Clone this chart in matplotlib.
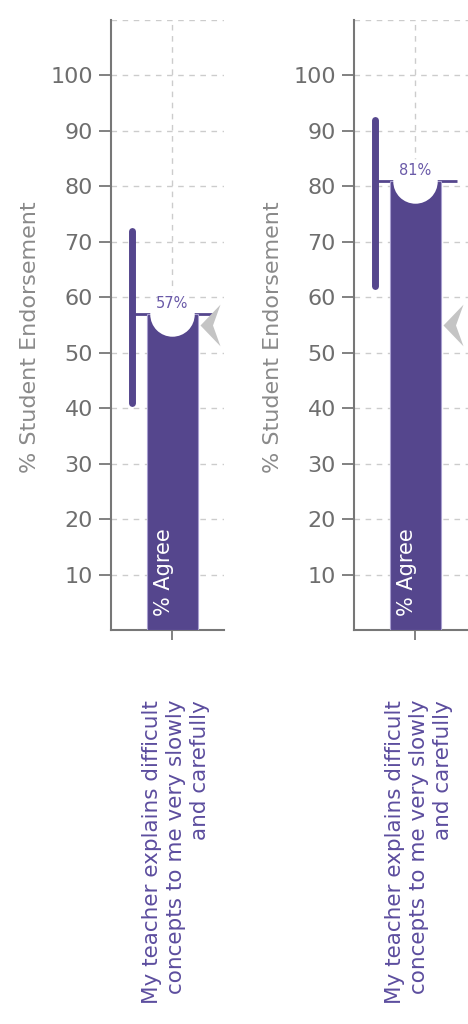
import matplotlib

matplotlib.use("Agg")
import matplotlib.pyplot as plt
import matplotlib.transforms as mtransforms
from matplotlib.path import Path

# data
agree = [57, 81]
range_low = [41, 62]
range_high = [72, 92]
benchmark = [55, 55]
item_labels = [
    "My teacher explains difficult\nconcepts to me very slowly\nand carefully",
    "My teacher explains difficult\nconcepts to me very slowly\nand carefully",
]
y_ticks = [10, 20, 30, 40, 50, 60, 70, 80, 90, 100]

PURPLE = "#55468d"
LABEL_PURPLE = "#5c4d9e"
GRID = "#cccccc"
AXIS = "#777777"

# left-pointing chevron used for the benchmark marker
CHEVRON = Path([(-0.48, 0.0), (0.48, 1.0), (0.12, 0.0), (0.48, -1.0), (-0.48, 0.0)],
               [Path.MOVETO, Path.LINETO, Path.LINETO, Path.LINETO, Path.CLOSEPOLY])

W, H = 468, 1024
fig = plt.figure(figsize=(W / 100, H / 100), dpi=100)
fig.patch.set_facecolor("white")

panels = [(111, 113), (354, 114)]  # left edge / width in pixels
top_px, bottom_px = 20, 630

for i, (left_px, width_px) in enumerate(panels):
    ax = fig.add_axes([left_px / W, (H - bottom_px) / H, width_px / W, (bottom_px - top_px) / H])
    ax.set_xlim(0, width_px)
    ax.set_ylim(0, 110)
    bar_x, bar_w, rng_x, line_end, arrow_x = 61, 51, 21, 103, 99

    # grid
    for t in y_ticks + [110]:
        ax.axhline(t, color=GRID, lw=1, ls=(0, (4, 4)), zorder=0)
    ax.axvline(bar_x, color=GRID, lw=1, ls=(0, (4, 4)), zorder=0)

    # reference line at the agree value, bar and the range bar
    ax.plot([rng_x, line_end], [agree[i], agree[i]], color=PURPLE, lw=2, zorder=2, solid_capstyle="butt")
    ax.bar(bar_x, agree[i], width=bar_w, color=PURPLE, edgecolor="#a89fcf", linewidth=0.8, zorder=3)
    ax.plot([rng_x, rng_x], [range_low[i], range_high[i]], color=PURPLE, lw=5, solid_capstyle="round", zorder=3)
    ax.plot(bar_x, agree[i], marker="o", markersize=32, color="white", markeredgewidth=0, zorder=4)
    ax.text(bar_x, agree[i] + 0.5, f"{agree[i]}%", ha="center", va="bottom", fontsize=10.5,
            color="#6a5aa8", zorder=5)
    ax.plot(arrow_x, benchmark[i], marker=CHEVRON, markersize=30, color="#c4c4c4",
            markeredgewidth=0, zorder=5, clip_on=False)

    ax.text(bar_x - 8, 2.5, "% Agree", rotation=90, ha="center", va="bottom", color="white",
            fontsize=15, zorder=5)

    # axes styling
    for s in ("top", "right"):
        ax.spines[s].set_visible(False)
    for s in ("left", "bottom"):
        ax.spines[s].set_color(AXIS)
        ax.spines[s].set_linewidth(1.5)
    ax.set_yticks(y_ticks)
    ax.set_yticklabels([str(t) for t in y_ticks], fontsize=16, color="#6e6e6e")
    ax.tick_params(axis="y", length=9, width=1.3, color=AXIS, pad=4)
    ax.set_xticks([bar_x])
    ax.set_xticklabels([""])
    ax.tick_params(axis="x", length=7, width=1.3, color=AXIS)

    ax.set_ylabel("% Student Endorsement", fontsize=16, color="#8a8a8a", fontweight="medium")
    ax.yaxis.set_label_coords(-71 / width_px, 0.48)

    trans = mtransforms.blended_transform_factory(ax.transData, ax.transAxes)
    ax.text(bar_x + 4, -70 / (bottom_px - top_px), item_labels[i], transform=trans, rotation=90,
            ha="center", va="top", multialignment="right", fontsize=15.5, color=LABEL_PURPLE,
            linespacing=1.25)

fig.savefig("out.png", dpi=100)
